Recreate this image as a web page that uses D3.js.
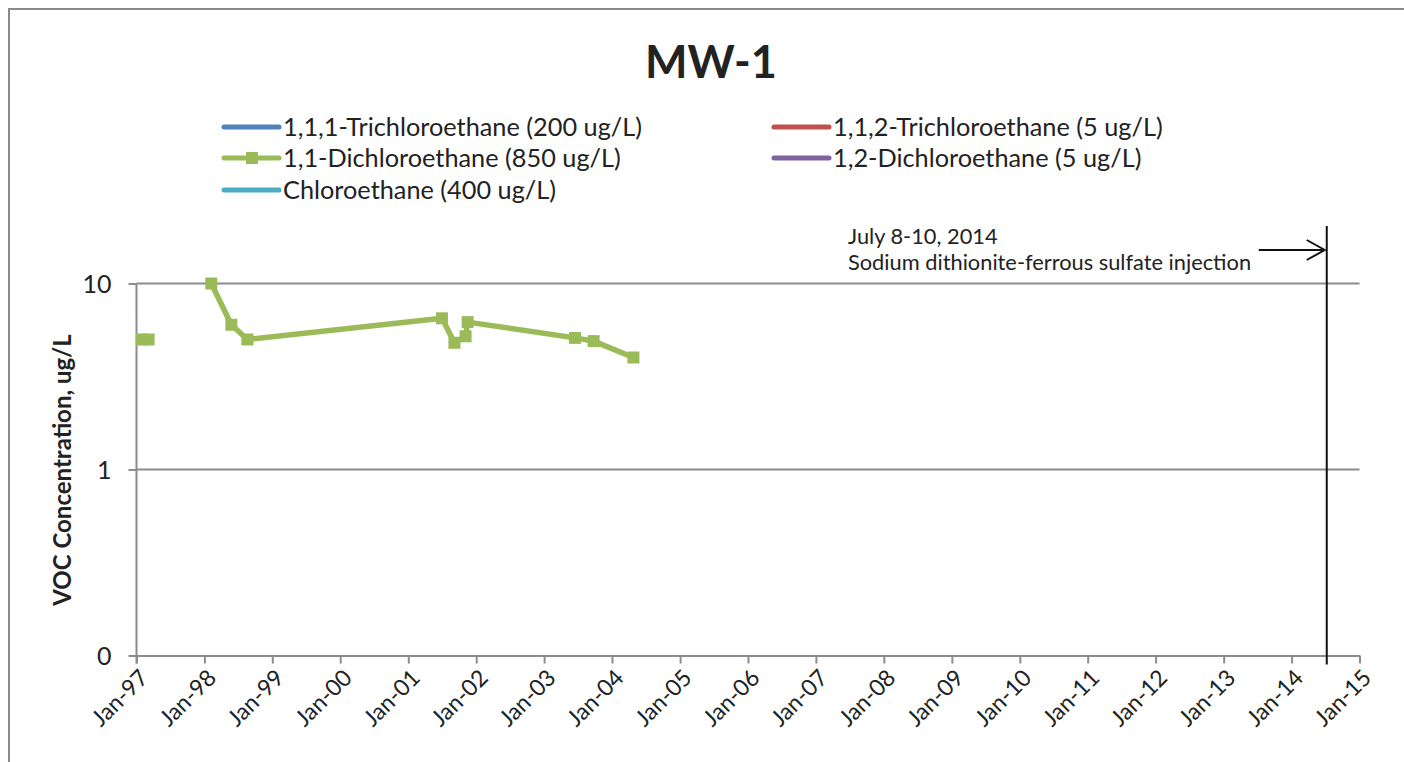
<!DOCTYPE html>
<html>
<head>
<meta charset="utf-8">
<script src="https://cdn.jsdelivr.net/npm/d3@7"></script>
<style>
  html, body { margin: 0; padding: 0; background: #fff; }
  svg { display: block; font-family: Lato, "Open Sans", sans-serif; }
</style>
</head>
<body>
<svg id="chart" width="1404" height="762"></svg>
<script>
// MW-1 monitoring well: VOC concentrations over time (log scale)
const sampleDates = ["1997-01-30", "1997-03-07", "1997-08-15", "1998-02-07", "1998-05-26", "1998-08-20",
                     "2001-07-01", "2001-09-06", "2001-11-05", "2001-11-16", "2003-06-16", "2003-09-24", "2004-04-25"];
const dce11 = [5, 5, null, 10, 6, 5, 6.5, 4.8, 5.2, 6.2, 5.1, 4.9, 4.0];   // 1,1-Dichloroethane
const tca111 = [];   // 1,1,1-Trichloroethane (no detections)
const tca112 = [];   // 1,1,2-Trichloroethane (no detections)
const dca12 = [];    // 1,2-Dichloroethane (no detections)
const chloroethane = []; // Chloroethane (no detections)

const seriesNames = ["1,1,1-Trichloroethane (200 ug/L)", "1,1,2-Trichloroethane (5 ug/L)",
                     "1,1-Dichloroethane (850 ug/L)", "1,2-Dichloroethane (5 ug/L)",
                     "Chloroethane (400 ug/L)"];
const seriesColors = ["#4F81BD", "#C0504D", "#9BBB59", "#8064A2", "#4BACC6"];
const seriesValues = [tca111, tca112, dce11, dca12, chloroethane];

const yTickValues = [0.1, 1, 10];
const yTickLabels = ["0", "1", "10"];
const xTickYears = d3.range(1997, 2016);
const injectionDate = "2014-07-09";
const injectionText = ["July 8-10, 2014", "Sodium dithionite-ferrous sulfate injection"];

const parse = d3.timeParse("%Y-%m-%d");
const svg = d3.select("#chart");
const FONT = "Lato, 'Open Sans', sans-serif";

const plot = { left: 136.5, right: 1359.5, top: 283.5, bottom: 655.5 };

const x = d3.scaleTime()
  .domain([new Date(1997, 0, 1), new Date(2015, 0, 1)])
  .range([plot.left, plot.right]);
const y = d3.scaleLog()
  .domain([0.1, 10])
  .range([plot.bottom, plot.top]);

// outer chart frame
svg.append("rect")
  .attr("x", 9).attr("y", 9).attr("width", 1420).attr("height", 780)
  .attr("fill", "none").attr("stroke", "#8a8a8a").attr("stroke-width", 2);

// title
svg.append("text")
  .attr("x", 711).attr("y", 78)
  .attr("text-anchor", "middle")
  .attr("font-size", 45).attr("font-weight", "bold").attr("fill", "#222")
  .text("MW-1");

// legend
const legendPos = [[222, 127], [772, 127], [222, 158], [772, 158], [222, 190]];
seriesNames.forEach((name, i) => {
  const [lx, ly] = legendPos[i];
  const g = svg.append("g").attr("transform", `translate(${lx},${ly})`);
  g.append("line")
    .attr("x1", 2).attr("x2", 57).attr("y1", 0).attr("y2", 0)
    .attr("stroke", seriesColors[i]).attr("stroke-width", 5)
    .attr("stroke-linecap", "round");
  if (i === 2) {
    g.append("rect").attr("x", 24).attr("y", -6).attr("width", 12).attr("height", 12)
      .attr("fill", seriesColors[i]);
  }
  g.append("text")
    .attr("x", 61).attr("y", 9)
    .attr("font-size", 25.3).attr("fill", "#222")
    .text(name);
});

// horizontal gridlines
svg.append("g")
  .selectAll("line")
  .data(yTickValues.filter(v => v > 0.1))
  .join("line")
  .attr("x1", plot.left).attr("x2", plot.right)
  .attr("y1", d => y(d)).attr("y2", d => y(d))
  .attr("stroke", "#8c8c8c").attr("stroke-width", 2);

// y axis
const yAxis = d3.axisLeft(y)
  .tickValues(yTickValues)
  .tickFormat((d, i) => yTickLabels[i])
  .tickSize(8).tickPadding(17);
const gy = svg.append("g").attr("transform", `translate(${plot.left},0)`).call(yAxis);
gy.select(".domain").attr("stroke", "#8c8c8c").attr("stroke-width", 2)
  .attr("d", `M0,${plot.top}V${plot.bottom + 8}`);
gy.selectAll(".tick line").attr("stroke", "#8c8c8c").attr("stroke-width", 2);
gy.selectAll(".tick text").attr("font-size", 25).attr("fill", "#222")
  .attr("font-family", FONT).attr("dy", "0.36em");

// x axis
const xAxis = d3.axisBottom(x)
  .tickValues(xTickYears.map(yr => new Date(yr, 0, 1)))
  .tickFormat(d3.timeFormat("%b-%y"))
  .tickSize(8).tickSizeOuter(0).tickPadding(6);
const gx = svg.append("g").attr("transform", `translate(0,${plot.bottom})`).call(xAxis);
gx.select(".domain").attr("stroke", "#8c8c8c").attr("stroke-width", 2);
gx.selectAll(".tick line").attr("stroke", "#8c8c8c").attr("stroke-width", 2);
gx.selectAll(".tick text")
  .attr("font-size", 23).attr("fill", "#222")
  .attr("font-family", FONT)
  .attr("text-anchor", "end")
  .attr("transform", "translate(7,18) rotate(-45)")
  .attr("dy", "0.35em").attr("y", 0).attr("x", 0);

// y axis title
svg.append("text")
  .attr("transform", "translate(71,470) rotate(-90)")
  .attr("text-anchor", "middle")
  .attr("font-size", 24).attr("font-weight", "bold").attr("fill", "#222")
  .text("VOC Concentration, ug/L");

// data series
const points = sampleDates.map((d, i) => ({ date: parse(d), value: dce11[i] }));
const line = d3.line()
  .defined(d => d.value != null)
  .x(d => x(d.date)).y(d => y(d.value));

svg.append("path")
  .datum(points)
  .attr("d", line)
  .attr("fill", "none").attr("stroke", seriesColors[2])
  .attr("stroke-width", 5.5).attr("stroke-linejoin", "round");

svg.append("g")
  .selectAll("rect")
  .data(points.filter(d => d.value != null))
  .join("rect")
  .attr("x", d => x(d.date) - 6).attr("y", d => y(d.value) - 6)
  .attr("width", 12).attr("height", 12)
  .attr("fill", seriesColors[2]);

// injection event marker
const xi = x(parse(injectionDate));
svg.append("line")
  .attr("x1", xi).attr("x2", xi).attr("y1", 226).attr("y2", plot.bottom + 9)
  .attr("stroke", "#111").attr("stroke-width", 2);
svg.append("path")
  .attr("d", `M${xi - 68},250H${xi - 2}M${xi - 20},240L${xi - 2},250L${xi - 20},260`)
  .attr("fill", "none").attr("stroke", "#111").attr("stroke-width", 2);

const ann = svg.append("text")
  .attr("x", 848).attr("y", 244)
  .attr("font-size", 21.8).attr("fill", "#222");
injectionText.forEach((t, i) => {
  ann.append("tspan").attr("x", 848).attr("dy", i === 0 ? 0 : 26).text(t);
});
</script>
</body>
</html>
